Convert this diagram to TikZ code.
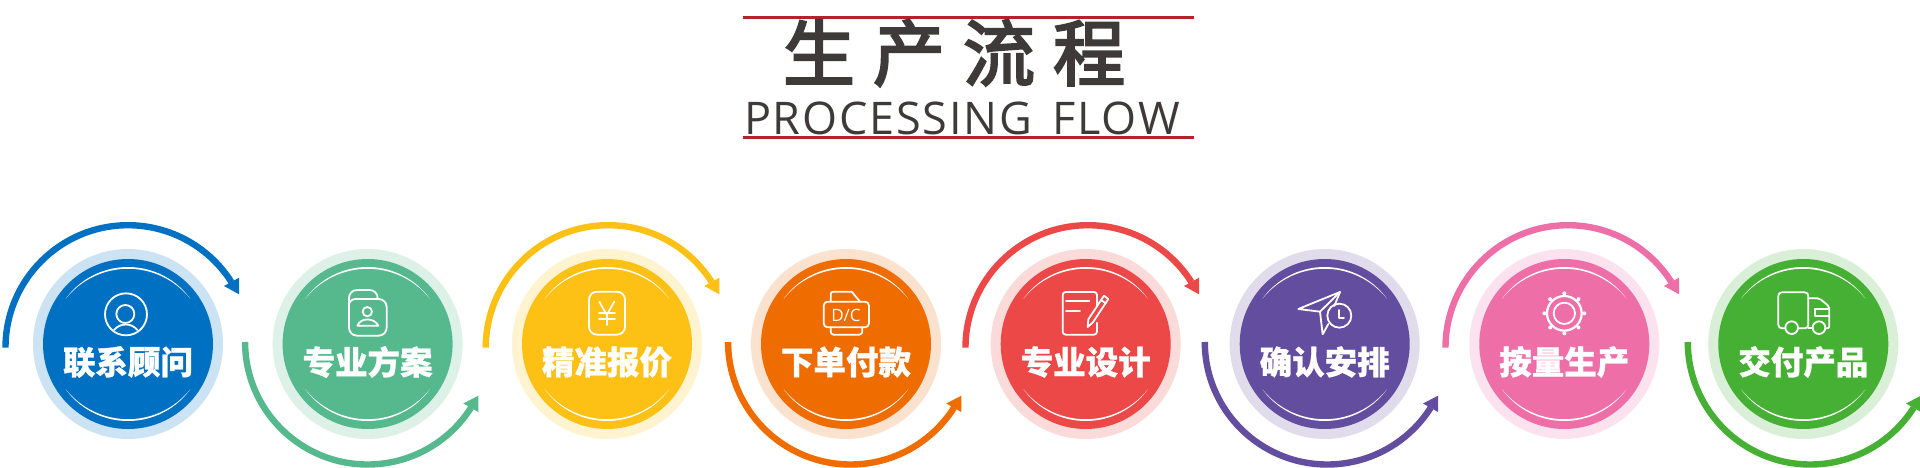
\documentclass[tikz,border=0pt]{standalone}
\usepackage{fontspec}
\newfontfamily\cjk[BoldFeatures={FakeBold=0.8}]{Noto Sans CJK SC}
\newfontfamily\cjkhead[FakeBold=3.2]{Noto Sans CJK SC}
\newfontfamily\latin{Open Sans}
\newfontfamily\latinsub[LetterSpace=4,WordSpace=1.5]{Open Sans}
\definecolor{ink}{HTML}{3E3A39}
\definecolor{rule}{HTML}{B8202A}
\definecolor{cA}{HTML}{0071C2}\definecolor{tA}{HTML}{CCE3F3}
\definecolor{cB}{HTML}{56B98E}\definecolor{tB}{HTML}{DDF1E8}
\definecolor{cC}{HTML}{FDC014}\definecolor{tC}{HTML}{FFF3D0}
\definecolor{cD}{HTML}{EE6C00}\definecolor{tD}{HTML}{FBE2CF}
\definecolor{cE}{HTML}{EC4848}\definecolor{tE}{HTML}{FBDADA}
\definecolor{cF}{HTML}{634D9E}\definecolor{tF}{HTML}{E0DCEC}
\definecolor{cG}{HTML}{EE6FA8}\definecolor{tG}{HTML}{FBE2EE}
\definecolor{cH}{HTML}{46B035}\definecolor{tH}{HTML}{DAEFD7}
\tikzset{
  halo/.style={circle,draw=none,minimum size=190pt,inner sep=0pt},
  disc/.style={circle,draw=none,minimum size=170pt,inner sep=0pt},
  steplabel/.style={text=white,inner sep=0pt,font=\cjk\bfseries\fontsize{32.5pt}{32.5pt}\selectfont},
  flowarc/.style={line width=6.4pt},
  icon/.style={draw=white,line width=1.8pt,line join=round,line cap=round},
  zm/.style={shift={(#1pt,267pt)},x=0.33333pt,y=-0.33333pt},
}
% name, centre x, main, tint, label
\newcommand{\stepcircle}[5]{%
  \node[halo,fill=#4] (h#1) at (#2,123) {};
  \node[disc,fill=#3] (d#1) at (#2,123) {};
  \fill[white] (#2,123) ++(36:77pt) arc[start angle=36,end angle=144,radius=77pt]
     arc[start angle=141.4,end angle=38.6,radius=79.7pt] -- cycle;
  \fill[white] (#2,123) ++(-36:77pt) arc[start angle=-36,end angle=-144,radius=77pt]
     arc[start angle=-141.4,end angle=-38.6,radius=79.7pt] -- cycle;
  \node[steplabel] (t#1) at (#2,105) {#5};
}
% centre x, colour
\newcommand{\toparc}[2]{%
  \begin{scope}[shift={(#1,119.3)}]
    \coordinate (s) at (180:122.5pt);
    \draw[flowarc,#2] (s) arc[start angle=180,end angle=32.4,radius=122.5pt];
    \fill[#2] (111,70) -- (111,53.4) -- (96,61.7) -- cycle;
  \end{scope}
}
\newcommand{\botarc}[2]{%
  \begin{scope}[shift={(#1,125)}]
    \coordinate (s) at (180:122.5pt);
    \draw[flowarc,#2] (s) arc[start angle=180,end angle=327.6,radius=122.5pt];
    \fill[#2] (110.7,-70) -- (110.7,-53.7) -- (95.7,-61.5) -- cycle;
  \end{scope}
}
\begin{document}
\begin{tikzpicture}[x=1pt,y=1pt]
\useasboundingbox (0,0) rectangle (1920,467);
\fill[white] (0,0) rectangle (1920,467);
% heading
\coordinate (ruleAl) at (743,449.5); \coordinate (ruleAr) at (1194,449.5);
\coordinate (ruleBl) at (743,330);   \coordinate (ruleBr) at (1194,330);
\draw[rule,line width=3pt] (ruleAl) -- (ruleAr);
\draw[rule,line width=3pt] (ruleBl) -- (ruleBr);
\node[text=ink,inner sep=0pt,font=\cjkhead\fontsize{72pt}{72pt}\selectfont] (title) at (954,414)
  {生\hspace{18pt}产\hspace{18pt}流\hspace{18pt}程};
\node[text=ink,inner sep=0pt,font=\latinsub\fontsize{45pt}{45pt}\selectfont] (sub) at (962,349)
  {PROCESSING FLOW};
% arcs
\toparc{128}{cA}
\botarc{367.6}{cB}
\toparc{608.3}{cC}
\botarc{850.6}{cD}
\toparc{1088}{cE}
\botarc{1327.3}{cF}
\toparc{1568}{cG}
\botarc{1810.3}{cH}
% circles
\stepcircle{a}{128}{cA}{tA}{联系顾问}
\stepcircle{b}{367.6}{cB}{tB}{专业方案}
\stepcircle{c}{607}{cC}{tC}{精准报价}
\stepcircle{e}{846}{cD}{tD}{下单付款}
\stepcircle{f}{1085.7}{cE}{tE}{专业设计}
\stepcircle{g}{1324.7}{cF}{tF}{确认安排}
\stepcircle{i}{1564.3}{cG}{tG}{按量生产}
\stepcircle{j}{1803.3}{cH}{tH}{交付产品}
% icon 1: person in ring
\begin{scope}[zm=0]
  \draw[icon] (378,343) circle[radius=63];
  \draw[icon] (376,342) circle[radius=27];
  \draw[icon] (342,390) .. controls (360,368) and (395,368) .. (412,390);
\end{scope}
% icon 2: contact folder
\begin{scope}[zm=0]
  \draw[icon,rounded corners=8pt] (1047,330) -- (1047,270) -- (1133,270) -- (1133,297);
  \draw[icon,rounded corners=8pt] (1047,330) -- (1047,407) -- (1160,407) -- (1160,297) -- (1133,297);
  \draw[icon] (1047,312) .. controls (1050,302) and (1058,297) .. (1068,297) -- (1133,297);
  \draw[icon] (1102,335) circle[radius=14];
  \draw[icon] (1072,377) .. controls (1082,352) and (1122,352) .. (1135,377) -- cycle;
\end{scope}
% icon 3: yen
\begin{scope}[zm=500]
  \draw[icon,rounded corners=8pt] (267,275) rectangle (375,404);
  \draw[icon] (298,305) -- (320,345) -- (343,305);
  \draw[icon] (320,345) -- (320,375);
  \draw[icon] (297,340) -- (345,340);
  \draw[icon] (297,358) -- (345,358);
\end{scope}
% icon 4: printer
\begin{scope}[zm=500]
  \draw[icon] (992,305) -- (992,285) .. controls (992,278) and (994,275) .. (1000,275) -- (1055,275) -- (1080,305);
  \draw[icon,rounded corners=4pt] (971,305) rectangle (1107,382);
  \draw[icon,rounded corners=3pt] (992,382) -- (992,404) -- (1087,404) -- (1087,382);
  \node[text=white,inner sep=0pt,font=\latin\fontsize{17pt}{17pt}\selectfont] (dc) at (1038,345) {D/C};
\end{scope}
% icon 5: note and pen
\begin{scope}[zm=1000]
  \draw[icon,rounded corners=3pt] (291,318) -- (291,276) -- (188,276) -- (188,404) -- (291,404) -- (291,368);
  \draw[icon] (198,303) -- (268,303);
  \draw[icon] (198,333) -- (240,333);
  \draw[icon] (312,287) -- (325,297) -- (278,368) -- (263,381) -- (265,358) -- cycle;
  \draw[icon] (303,300) -- (317,310);
\end{scope}
% icon 6: paper plane and clock
\begin{scope}[zm=1000]
  \draw[icon] (985,372) -- (968,403) -- (960,335) -- (895,327) -- (1020,276) -- (1003,318);
  \draw[icon] (960,335) -- (1020,276);
  \draw[icon] (1018,347) circle[radius=36];
  \draw[icon] (1018,330) -- (1018,353) -- (1032,353);
\end{scope}
% icon 7: gear
\begin{scope}[zm=1420]
  \draw[icon,line width=2.2pt] (433,340) circle[radius=52];
  \draw[icon] (433,340) circle[radius=32];
  \foreach \a in {0,45,...,315}
    \fill[white] (433,340) ++({60*cos(\a)},{60*sin(\a)}) circle[radius=6];
\end{scope}
% icon 8: truck
\begin{scope}[zm=1420]
  \draw[icon,rounded corners=3.5pt] (1096,385) -- (1075,385) -- (1075,277) -- (1165,277) -- (1165,385) -- (1135,385);
  \draw[icon,rounded corners=2pt] (1165,295) -- (1198,295) -- (1228,320) -- (1228,385) -- (1217,385);
  \draw[icon] (1165,385) -- (1177,385);
  \draw[icon] (1228,328) -- (1186,328) -- (1186,347) -- (1228,347);
  \draw[icon] (1115,383) circle[radius=19];
  \draw[icon] (1197,383) circle[radius=19];
\end{scope}
\end{tikzpicture}
\end{document}
